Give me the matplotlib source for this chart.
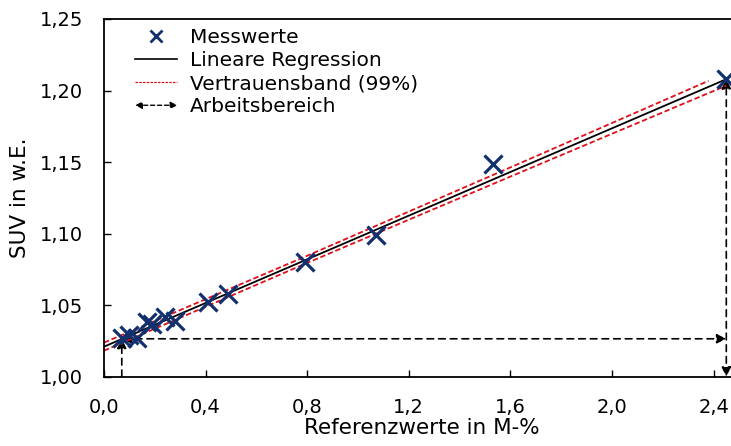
import numpy as np
import matplotlib
matplotlib.use("Agg")
import matplotlib.pyplot as plt
from matplotlib.lines import Line2D
from matplotlib.patches import FancyArrowPatch
from matplotlib.legend_handler import HandlerBase
from matplotlib.ticker import FuncFormatter

plt.rcParams['font.family'] = ['DejaVu Sans']
plt.rcParams['font.size'] = 14

# Messwerte (Referenzwert in M-%, SUV in w.E.)
ref = [0.07, 0.10, 0.13, 0.17, 0.19, 0.24, 0.28, 0.41, 0.49, 0.79, 1.07, 1.53, 2.45]
suv = [1.027, 1.029, 1.027, 1.038, 1.037, 1.042, 1.039, 1.052, 1.058, 1.080, 1.099, 1.149, 1.208]

# Lineare Regression
reg_icpt = 1.021
reg_slope = 0.0763

# Vertrauensband: halbe Breite an einigen Stellen
band_x = [0.0, 0.8, 1.6, 2.38]
band_hw = [0.0028, 0.0025, 0.0032, 0.0042]
band_x_low = [0.0, 0.8, 1.6, 2.45]
band_hw_low = [0.0028, 0.0025, 0.0032, 0.0045]

# Arbeitsbereich
work_x = [0.07, 2.45]
work_y = 1.0265

xticks = [0.0, 0.4, 0.8, 1.2, 1.6, 2.0, 2.4]
yticks = [1.00, 1.05, 1.10, 1.15, 1.20, 1.25]

navy = '#12306e'
red = '#e0101a'

xl = np.array([0.0, work_x[1]])
bx = np.array(band_x)
bxl = np.array(band_x_low)

fig = plt.figure(figsize=(7.31, 4.46), dpi=100)
ax = fig.add_axes([104 / 731, 1 - 376.7 / 446, 635 / 731, (376.7 - 19) / 446])

ax.plot(xl, reg_slope * xl + reg_icpt, color='black', lw=1.3)
ax.plot(bx, reg_slope * bx + reg_icpt + np.array(band_hw), color=red, lw=1.3, ls=(0, (3, 1.5)))
ax.plot(bxl, reg_slope * bxl + reg_icpt - np.array(band_hw_low), color=red, lw=1.3, ls=(0, (3, 1.5)))
ax.plot(ref, suv, ls='none', marker='x', ms=13, mew=2.3, color=navy)

arrow_kw = dict(arrowstyle='-|>', mutation_scale=14, color='black', lw=1.2,
                linestyle=(0, (4, 3)), shrinkA=0, shrinkB=0)
# waagerechter Doppelpfeil
ax.add_patch(FancyArrowPatch((work_x[0], work_y), (work_x[1], work_y),
                             **{**arrow_kw, 'arrowstyle': '<|-|>'}))
# senkrechte Pfeile
ax.add_patch(FancyArrowPatch((work_x[0], 1.0), (work_x[0], work_y), **arrow_kw))
ax.add_patch(FancyArrowPatch((work_x[1], 1.0), (work_x[1], suv[-1]),
                             **{**arrow_kw, 'arrowstyle': '<|-|>'}))

ax.set_xlim(0, 2.5)
ax.set_ylim(1.0, 1.25)
ax.set_xticks(xticks)
ax.set_yticks(yticks)
ax.xaxis.set_major_formatter(FuncFormatter(lambda v, p: f'{v:.1f}'.replace('.', ',')))
ax.yaxis.set_major_formatter(FuncFormatter(lambda v, p: f'{v:.2f}'.replace('.', ',')))
ax.tick_params(direction='in', length=5, width=1, labelsize=14)
ax.tick_params(axis='x', pad=15)
ax.tick_params(axis='y', pad=15)
for sp in ax.spines.values():
    sp.set_linewidth(1.3)
ax.set_xlabel('Referenzwerte in M-%', fontsize=15.5, labelpad=1)
ax.set_ylabel('SUV in w.E.', fontsize=15.5, labelpad=7)


class ArrowHandler(HandlerBase):
    def create_artists(self, legend, orig, xd, yd, w, h, fs, trans):
        a = FancyArrowPatch((xd, yd + h / 2), (xd + w, yd + h / 2), arrowstyle='<|-|>',
                            mutation_scale=10, color='black', lw=1.0,
                            linestyle=(0, (3, 2)), shrinkA=0, shrinkB=0, transform=trans)
        return [a]


h_meas = Line2D([], [], ls='none', marker='x', ms=8, mew=2, color=navy)
h_reg = Line2D([], [], color='black', lw=1.2)
h_band = Line2D([], [], color=red, lw=0.9, ls=(0, (2, 1)))
h_arr = Line2D([], [])
ax.legend([h_meas, h_reg, h_band, h_arr],
          ['Messwerte', 'Lineare Regression', 'Vertrauensband (99%)', 'Arbeitsbereich'],
          handler_map={h_arr: ArrowHandler()}, loc='upper left', frameon=False,
          bbox_to_anchor=(0.03, 1.008), handlelength=2.1, handletextpad=0.62,
          labelspacing=0.2, borderaxespad=0.2, fontsize=14.5)

fig.savefig('out.png', dpi=100)
